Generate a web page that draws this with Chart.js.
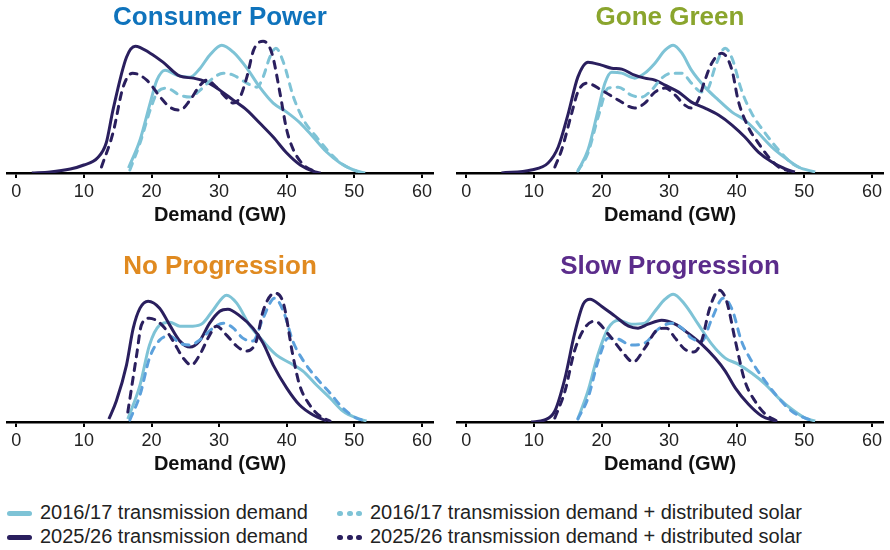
<!DOCTYPE html>
<html>
<head>
<meta charset="utf-8">
<script src="https://cdn.jsdelivr.net/npm/chart.js@4.4.1/dist/chart.umd.min.js"></script>
<style>
  html, body { margin: 0; padding: 0; background: #fff; }
  body { width: 890px; height: 550px; position: relative; overflow: hidden; font-family: "Liberation Sans", Arial, sans-serif; }
  canvas { position: absolute; }
  .leg { position: absolute; font-size: 20px; line-height: 23px; color: #222; white-space: nowrap; }
  .ico { position: absolute; }
</style>
</head>
<body>
<canvas id="c1" width="440" height="230" style="left:0px;top:0px"></canvas>
<canvas id="c2" width="440" height="230" style="left:450px;top:0px"></canvas>
<canvas id="c3" width="440" height="230" style="left:0px;top:249px"></canvas>
<canvas id="c4" width="440" height="230" style="left:450px;top:249px"></canvas>
<div id="legend"></div>
<script>
// ---- Data (x = demand GW, y = relative density) ----
const tickValues = [0, 10, 20, 30, 40, 50, 60];
const panelTitles = ["Consumer Power", "Gone Green", "No Progression", "Slow Progression"];
const seriesNames = [
  "2016/17 transmission demand",
  "2025/26 transmission demand",
  "2016/17 transmission demand + distributed solar",
  "2025/26 transmission demand + distributed solar"
];

// Consumer Power
const cpTrans16 = [[16.6,5],[18.3,33],[19.8,70],[20.8,93],[22,103],[23.7,98],[25.7,96],[27.2,105],[28.6,118],[30.4,128],[32.1,121],[34.1,105],[36,86],[38,70],[40,61],[42,50],[43.9,36],[45.9,21],[47.9,10],[49.9,3],[51.6,0]];
const cpTrans25 = [[2.3,0],[5,1],[8,4],[10,8],[12,15],[13.3,30],[14.3,63],[16.3,116],[17.6,127],[19.8,120],[21.7,111],[24.2,97],[26.2,95],[28.2,91],[30.1,83],[32.1,73],[34.1,63],[36,50],[38,36],[40,20],[42,8],[44.2,1],[45,0]];
const cpSolar16 = [[16.8,3],[18.3,30],[19.8,63],[20.8,80],[22.2,85],[24.2,78],[25.7,76],[27.2,83],[29.1,95],[30.6,100],[32.1,98],[34.1,90],[35.6,86],[36.5,96],[37.5,116],[38.4,125],[39.5,111],[41,76],[42.5,53],[44.4,36],[46.4,20],[48.4,8],[50.3,2]];
const cpSolar25 = [[12.6,6],[14.3,40],[15.8,86],[17.2,100],[19.3,93],[21.3,76],[22.7,66],[24.2,63],[25.7,73],[27.2,88],[28.2,93],[29.6,86],[31.1,75],[32.1,70],[33.1,76],[34.1,96],[35.1,123],[36.5,132],[37.8,120],[39,80],[40,43],[41,23],[42.5,8],[44.4,1]];

// Gone Green
const ggTrans16 = [[16.5,2],[18,23],[19.5,63],[20.5,90],[21.5,101],[23,100],[24.9,95],[26.4,100],[27.9,110],[29.4,123],[30.6,128],[31.9,120],[33.3,103],[35.3,86],[37.3,73],[39.3,61],[41.2,53],[43.2,40],[45.2,26],[47.2,15],[49.1,6],[51.6,1]];
const ggTrans25 = [[5.2,0],[9.6,3],[12.1,10],[13.6,26],[15.1,60],[16.5,96],[18,111],[20,108],[21.5,105],[23,104],[24.9,98],[26.4,95],[27.9,93],[29.4,88],[31.4,81],[33.3,71],[35.3,65],[37.3,58],[39.3,48],[41.2,36],[43.2,21],[45.2,11],[47.2,4],[48.6,1]];
const ggSolar16 = [[16.5,2],[18,20],[19.5,56],[21,85],[22.5,86],[24.4,78],[25.9,76],[27.4,83],[28.9,95],[30.4,100],[31.9,100],[33.3,90],[34.8,81],[35.8,85],[36.8,106],[38.3,125],[39.3,115],[40.7,83],[42.2,60],[44.2,40],[46.2,23],[48.1,10],[50.1,3]];
const ggSolar25 = [[13.1,6],[14.1,23],[15.6,60],[16.5,81],[17.8,90],[20,83],[22.5,73],[24.9,65],[26.4,70],[27.9,81],[29.4,85],[30.9,78],[32.3,68],[33.3,65],[34.3,73],[35.3,93],[36.3,110],[37.8,120],[39.3,103],[40.2,73],[41.7,46],[43.2,30],[44.7,16],[46.2,6],[47.7,2]];

// No Progression
const npTrans16 = [[16.5,3],[18.3,37],[19.7,77],[21.2,97],[22.7,100],[24.2,96],[26.1,96],[27.6,99],[29.1,112],[31.1,127],[32.6,119],[34.5,97],[36.5,81],[38.5,67],[40.5,59],[42.4,51],[44.4,37],[46.4,24],[48.3,11],[50.3,4],[51.8,1]];
const npTrans25 = [[13.7,3],[14.8,21],[16.3,57],[17.3,94],[18.3,114],[19.5,121],[21.2,114],[22.7,97],[24.2,81],[25.7,75],[27.1,81],[28.6,99],[30.1,111],[31.3,113],[33.1,106],[35,94],[36.5,79],[38,57],[40,34],[41.9,17],[43.9,7],[45.9,1]];
const npSolar16 = [[16.8,2],[18.3,27],[19.7,64],[21.2,82],[22.7,86],[24.2,79],[25.7,77],[27.1,82],[29.1,94],[30.6,99],[32.1,94],[33.5,84],[35,81],[36.5,104],[38.2,124],[39.5,111],[40.9,81],[42.4,62],[44.4,44],[46.4,29],[48.3,14],[50.3,4],[51.8,1]];
const npSolar25 = [[16.5,10],[17.8,67],[18.5,97],[19.7,104],[21.7,96],[23.2,81],[24.7,64],[25.9,57],[27.1,67],[28.6,87],[29.6,96],[31.1,87],[32.6,76],[34,71],[35.5,81],[36.5,111],[38.2,129],[39.5,119],[40.9,67],[41.9,37],[43.4,17],[44.9,6],[46.4,1]];

// Slow Progression
const spTrans16 = [[16.5,3],[18,31],[19.5,68],[21,94],[22.5,102],[24.4,98],[26.4,99],[27.9,111],[29.4,123],[30.6,128],[32.3,118],[34.3,98],[36.3,78],[38.3,64],[40.2,58],[42.2,49],[44.2,38],[46.2,24],[48.1,13],[50.1,4],[51.6,1]];
const spTrans25 = [[9.6,0],[11.6,2],[13.1,11],[14.6,44],[16,88],[17.3,118],[18.3,123],[20,116],[22,106],[24,96],[25.4,94],[26.9,98],[28.9,102],[30.9,98],[32.8,89],[34.8,78],[36.8,64],[38.3,51],[39.8,34],[41.7,18],[43.7,6],[45.7,1]];
const spSolar16 = [[16.5,3],[18,24],[19.5,61],[21,84],[22.5,83],[24.4,77],[26.4,79],[28.4,93],[30.4,99],[31.9,94],[33.3,84],[34.8,81],[36.3,103],[38,124],[39.3,113],[40.7,81],[42.2,61],[44.2,41],[46.2,24],[48.1,11],[50.1,4],[51.6,1]];
const spSolar25 = [[13.1,4],[14.6,31],[16,71],[17.5,94],[19,101],[21,88],[23,71],[24.7,60],[26.4,74],[28.4,93],[29.6,94],[30.9,84],[32.3,73],[33.6,70],[34.8,81],[36,114],[37.4,132],[38.5,121],[39.8,81],[41.2,41],[42.7,21],[44.2,8],[45.9,1]];

// ---- Styling ----
const NAVY = "#2a1f5e";
const LIGHT = "#7ec3d6";
const MID = "#5ca1dc";
const titleColors = ["#0f73bc", "#8aa52d", "#e08a20", "#5b2c8b"];
const FONT = '"Liberation Sans", Arial, Helvetica, sans-serif';

const panels = [
  { id: "c1", t16: cpTrans16, t25: cpTrans25, s16: cpSolar16, s25: cpSolar25, dashColor: LIGHT },
  { id: "c2", t16: ggTrans16, t25: ggTrans25, s16: ggSolar16, s25: ggSolar25, dashColor: LIGHT },
  { id: "c3", t16: npTrans16, t25: npTrans25, s16: npSolar16, s25: npSolar25, dashColor: MID },
  { id: "c4", t16: spTrans16, t25: spTrans25, s16: spSolar16, s25: spSolar25, dashColor: MID }
];

const toXY = arr => arr.map(p => ({ x: p[0], y: p[1] }));

function ds(label, data, color, dashed) {
  return {
    label, data: toXY(data), borderColor: color, backgroundColor: color,
    borderWidth: 3, pointRadius: 0, fill: false,
    cubicInterpolationMode: "monotone",
    borderDash: dashed ? [7, 7] : [],
    borderCapStyle: dashed ? "round" : "butt",
    borderJoinStyle: "round"
  };
}

panels.forEach((p, i) => {
  new Chart(document.getElementById(p.id), {
    type: "line",
    data: {
      datasets: [
        ds(seriesNames[3], p.s25, NAVY, true),
        ds(seriesNames[2], p.s16, p.dashColor, true),
        ds(seriesNames[1], p.t25, NAVY, false),
        ds(seriesNames[0], p.t16, LIGHT, false)
      ]
    },
    options: {
      responsive: false,
      animation: false,
      events: [],
      layout: { padding: { left: 7, right: 7, top: 0, bottom: 5.6 } },
      plugins: {
        legend: { display: false },
        tooltip: { enabled: false },
        title: {
          display: true, text: panelTitles[i], color: titleColors[i],
          font: { family: FONT, size: 26, weight: "bold" },
          padding: { top: 2, bottom: 3 }
        }
      },
      scales: {
        x: {
          type: "linear", min: -1.37, max: 61.63,
          afterBuildTicks: s => { s.ticks = tickValues.map(v => ({ value: v })); },
          ticks: { font: { family: FONT, size: 18 }, color: "#222", padding: 3, maxRotation: 0 },
          grid: { display: true, drawOnChartArea: false, drawTicks: true, tickLength: 5, color: "#000", lineWidth: 2 },
          border: { display: true, color: "#000", width: 2.5 },
          title: { display: true, text: "Demand (GW)", color: "#111", font: { family: FONT, size: 20, weight: "bold", lineHeight: 0.94 }, padding: { top: 0, bottom: 0 } }
        },
        y: { display: false, min: 0, max: 137 }
      }
    }
  });
});

// ---- HTML legend ----
const legendItems = [
  { name: seriesNames[0], color: LIGHT, dashed: false, x: 7, y: 513 },
  { name: seriesNames[1], color: NAVY, dashed: false, x: 7, y: 537 },
  { name: seriesNames[2], color: LIGHT, dashed: true, x: 337, y: 513 },
  { name: seriesNames[3], color: NAVY, dashed: true, x: 337, y: 537 }
];
const leg = document.getElementById("legend");
legendItems.forEach(it => {
  const ic = document.createElement("div");
  ic.className = "ico";
  if (!it.dashed) {
    ic.style.cssText = `left:${it.x}px;top:${it.y - 2.5}px;width:25px;height:5px;border-radius:3px;background:${it.color}`;
  } else {
    ic.style.cssText = `left:${it.x}px;top:${it.y - 2.5}px;width:26px;height:5px;`;
    for (let k = 0; k < 3; k++) {
      const d = document.createElement("div");
      d.style.cssText = `position:absolute;left:${k * 9.5}px;top:0;width:6px;height:5px;border-radius:3px;background:${it.color}`;
      ic.appendChild(d);
    }
  }
  leg.appendChild(ic);
  const t = document.createElement("div");
  t.className = "leg";
  t.textContent = it.name;
  t.style.left = (it.x + 33) + "px";
  t.style.top = (it.y - 12) + "px";
  leg.appendChild(t);
});
</script>
</body>
</html>
